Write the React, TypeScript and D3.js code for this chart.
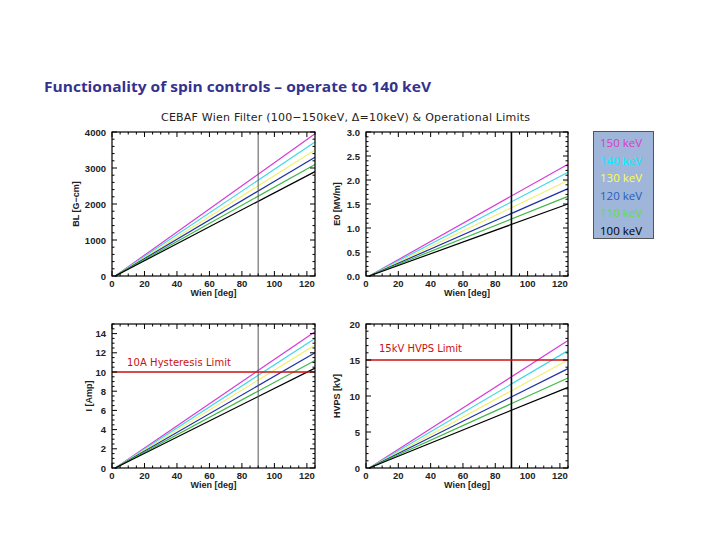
import React from "react";
import * as d3 from "d3";

const energies = ["150 keV", "140 keV", "130 keV", "120 keV", "110 keV", "100 keV"];
const wienPoints = [2, 125];
const blEnd = [3950, 3720, 3500, 3300, 3100, 2900];
const e0End = [2.33, 2.16, 1.99, 1.82, 1.66, 1.5];
const ampEnd = [14.2, 13.5, 12.8, 12.0, 11.2, 10.4];
const hvpsEnd = [17.7, 16.3, 15.0, 13.8, 12.5, 11.2];
const xTicks = [0, 20, 40, 60, 80, 100, 120];
const wienOperating = 90;
const hysteresisLimit = 10;
const hvpsLimit = 15;

const lineColors = ["#d83cd8", "#40d8e8", "#f2f070", "#2030a8", "#40b848", "#000000"];
const legendColors = ["#d83cc8", "#00f0ff", "#ffff40", "#1f5fbf", "#66dd44", "#000000"];

type PanelSpec = {
  x0: number; x1: number; y0: number; y1: number;
  yMax: number; yMajor: number; yMinor: number; fmt: (v: number) => string;
  ends: number[]; ylabel: string;
  vline: { color: string; width: number };
  limit?: { value: number; label: string; lx: number; ly: number; len: number };
};

const panels: PanelSpec[] = [
  { x0: 112, x1: 315, y0: 132, y1: 276, yMax: 4000, yMajor: 1000, yMinor: 200, fmt: (v) => String(v), ends: blEnd, ylabel: "BL [G\u2212cm]", vline: { color: "#555", width: 1 } },
  { x0: 366, x1: 568, y0: 132, y1: 276, yMax: 3, yMajor: 0.5, yMinor: 0.1, fmt: (v) => v.toFixed(1), ends: e0End, ylabel: "E0 [MV/m]", vline: { color: "#000", width: 1.6 } },
  { x0: 112, x1: 315, y0: 324, y1: 468, yMax: 15, yMajor: 2, yMinor: 0.5, fmt: (v) => String(v), ends: ampEnd, ylabel: "I [Amp]", vline: { color: "#555", width: 1 }, limit: { value: hysteresisLimit, label: "10A Hysteresis Limit", lx: 127, ly: 366, len: 104 } },
  { x0: 366, x1: 568, y0: 324, y1: 468, yMax: 20, yMajor: 5, yMinor: 1, fmt: (v) => String(v), ends: hvpsEnd, ylabel: "HVPS [kV]", vline: { color: "#000", width: 1.6 }, limit: { value: hvpsLimit, label: "15kV HVPS Limit", lx: 379, ly: 352, len: 83 } },
];

const tickFont = "'Liberation Sans', Arial, sans-serif";

function Panel({ p }: { p: PanelSpec }) {
  const x = d3.scaleLinear().domain([0, 125]).range([p.x0, p.x1]);
  const y = d3.scaleLinear().domain([0, p.yMax]).range([p.y1, p.y0]);
  const line = d3.line<[number, number]>().x((d) => x(d[0])).y((d) => y(d[1]));
  const xMinor = d3.range(0, 125.01, 5);
  const yMajorTicks = d3.range(0, p.yMax + 1e-9, p.yMajor);
  const yMinorTicks = d3.range(0, p.yMax + 1e-9, p.yMinor);
  const M = 5, m = 2.5;
  const els: React.ReactNode[] = [];
  xMinor.forEach((v, i) => {
    const isMaj = xTicks.includes(v);
    const L = isMaj ? M : m;
    els.push(<line key={"xb" + i} x1={x(v)} x2={x(v)} y1={p.y1} y2={p.y1 - L} stroke="#000" strokeWidth={1} />);
    els.push(<line key={"xt" + i} x1={x(v)} x2={x(v)} y1={p.y0} y2={p.y0 + L} stroke="#000" strokeWidth={1} />);
  });
  yMinorTicks.forEach((v, i) => {
    const isMaj = yMajorTicks.some((t) => Math.abs(t - v) < 1e-6);
    const L = isMaj ? M : m;
    els.push(<line key={"yl" + i} x1={p.x0} x2={p.x0 + L} y1={y(v)} y2={y(v)} stroke="#000" strokeWidth={1} />);
    els.push(<line key={"yr" + i} x1={p.x1} x2={p.x1 - L} y1={y(v)} y2={y(v)} stroke="#000" strokeWidth={1} />);
  });
  const cy = (p.y0 + p.y1) / 2;
  return (
    <g>
      {p.ends.map((e, i) => (
        <path key={i} d={line([[wienPoints[0], 0], [wienPoints[1], e]]) || ""} fill="none" stroke={lineColors[i]} strokeWidth={1.2} />
      ))}
      <line x1={x(wienOperating)} x2={x(wienOperating)} y1={p.y0} y2={p.y1} stroke={p.vline.color} strokeWidth={p.vline.width} />
      {p.limit && (
        <g>
          <line x1={p.x0} x2={p.x1} y1={y(p.limit.value)} y2={y(p.limit.value)} stroke="#cc1010" strokeWidth={1.6} />
          <text x={p.limit.lx} y={p.limit.ly} fontFamily="'DejaVu Sans', sans-serif" fontSize={10} fill="#cc1010" textLength={p.limit.len} lengthAdjust="spacing">{p.limit.label}</text>
        </g>
      )}
      <rect x={p.x0} y={p.y0} width={p.x1 - p.x0} height={p.y1 - p.y0} fill="none" stroke="#000" strokeWidth={1.2} />
      {els}
      {xTicks.map((v) => (
        <text key={"xl" + v} x={x(v)} y={p.y1 + 11} textAnchor="middle" fontFamily={tickFont} fontWeight="bold" fontSize={9.5} fill="#222">{v}</text>
      ))}
      {yMajorTicks.map((v) => (
        <text key={"yt" + v} x={p.x0 - 6} y={y(v) + 3.5} textAnchor="end" fontFamily={tickFont} fontWeight="bold" fontSize={9.5} fill="#222">{p.fmt(v)}</text>
      ))}
      <text x={(p.x0 + p.x1) / 2} y={p.y1 + 20} textAnchor="middle" fontFamily={tickFont} fontWeight="bold" fontSize={9} fill="#222">Wien [deg]</text>
      <text transform={`translate(${p.x0 - (p.ylabel.startsWith("I ") ? 20 : p.ylabel.startsWith("E0") || p.ylabel.startsWith("HVPS") ? 26 : 33)},${cy}) rotate(-90)`} textAnchor="middle" fontFamily={tickFont} fontWeight="bold" fontSize={9} fill="#222">{p.ylabel}</text>
    </g>
  );
}

export default function App() {
  return (
    <svg width={720} height={540} style={{ position: "absolute", left: 0, top: 0, background: "#fff" }}>
      <rect x={0} y={0} width={720} height={540} fill="#fff" />
      <text x={44} y={92} fontFamily="'Open Sans', sans-serif" fontWeight="bold" fontSize={14} fill="#33338f" textLength={387} lengthAdjust="spacingAndGlyphs">Functionality of spin controls – operate to 140 keV</text>
      <text x={161} y={121} fontFamily="'DejaVu Sans', sans-serif" fontSize={11} fill="#222" textLength={369} lengthAdjust="spacing">CEBAF  Wien  Filter  (100−150keV,  Δ=10keV)  &amp;  Operational  Limits</text>
      {panels.map((p, i) => <Panel key={i} p={p} />)}
      <rect x={593.5} y={131.5} width={60} height={107} fill="#9fb5da" stroke="#555" strokeWidth={1} />
      {energies.map((e, i) => (
        <text key={e} x={600} y={147 + i * 17.5} fontFamily="'Open Sans', sans-serif" fontSize={11.5} fill={legendColors[i]}>{e}</text>
      ))}
    </svg>
  );
}
